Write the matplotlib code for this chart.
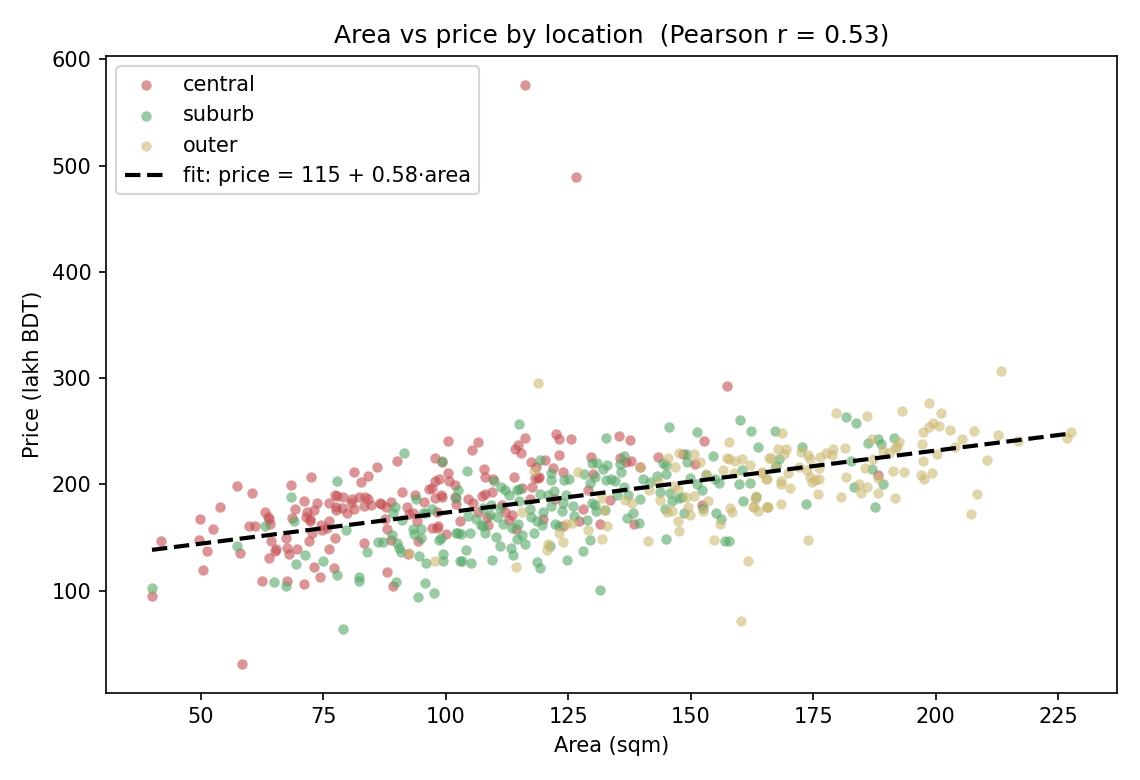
import numpy as np
import matplotlib
matplotlib.use("Agg")
import matplotlib.pyplot as plt

# (area in sqm, price in lakh BDT) for each location
central = [
 (40,95.6),(41.8,147.3),(49.8,167.4),(52.4,158.3),(49.7,147.6),(51.3,137.9),(50.5,120),(53.9,178.4),
 (57.3,198.7),(60.4,191.8),(57.9,136),(59.8,160.5),(61.1,160.5),(63,174.3),(63.7,169.3),(63.9,167.4),
 (64.1,162.7),(64.4,147),(65.3,139.2),(65.2,137.3),(63.9,131),(62.5,108.8),(67.5,108.8),(67.4,150.1),
 (67.5,140.1),(67.9,135.1),(69.7,139.8),(68.3,199.7),(68.5,168.3),(69.2,177.1),(71,184.6),(71.7,174.6),
 (73.1,176.2),(73.6,182.7),(71.5,169.3),(72.4,207.2),(72.2,167.4),(72.3,165.2),(72.6,154.2),(72,147),
 (74.6,162),(74.7,157.3),(76.2,165.2),(75.7,158.9),(77.4,150.1),(76.2,139.8),(73,122.5),(74.3,113.1),
 (71.1,106.6),(77.2,121.3),(76.1,183),(77.4,190.3),(77.7,189.3),(78.9,188.1),(77.5,178.7),(77.6,176.2),
 (78.7,177.7),(79.9,173),(80.6,182.4),(80.9,186.2),(81.3,177.1),(81.3,211.6),(82.6,202.2),(84.1,208.1),
 (85.9,216.3),(82.2,187.8),(83.2,179.9),(83.5,187.8),(84.2,186.5),(84.7,180.9),(86.6,182.4),(86.8,181.5),
 (87.8,178.4),(88.8,183.1),(87.6,167.4),(88,158),(83.2,145.4),(88.9,148),(88,117.5),(89.3,104.7),
 (92.3,134.8),(90,221.9),(91,193.4),(92,179.3),(93.2,173),(92.5,172.4),(93.7,190.3),(95.6,184),
 (94.1,166.1),(96.5,195.6),(97.1,196.9),(97.7,203.4),(98.5,205.3),(97.8,224.7),(99.2,220.7),(100.5,240.7),
 (100.5,210.6),(100.7,203.4),(101.8,199.7),(97.8,187.1),(99,190.3),(99.2,187.8),(101.8,188.7),(102,181.5),
 (98.2,174.6),(97.1,158.9),(98.1,158.9),(98.4,160.5),(100.1,153.6),(94.4,147),(102.8,166.1),
 (106.5,240.4),(105.3,232.3),(104.6,186.8),(105.6,183),(106.6,174.6),(107.7,214.7),(107.9,206.6),(109.6,205.3),
 (107.4,189),(107.9,190.9),(109.5,192.5),(108.5,169.3),(108.6,161.7),(111.4,180.9),(112.1,174.6),(112.8,166.7),
 (113.6,171.5),(113.9,206.6),(114.1,233.2),(114.7,237.3),(115.3,229.4),(116.1,244.2),(115.5,196.5),(117.5,198.1),
 (117.2,186.2),(114.4,158),(117.3,221.3),(118.4,216.9),(118.2,205.9),(118.9,205.9),(119.1,207.5),(120.3,223.2),
 (121.9,215.3),(122.4,247.9),(123,242.9),(125.6,242.6),(123,227.9),(123.9,211.9),(122.3,186.2),(119.9,167.7),
 (124,160.5),(127.1,165.8),(127.9,176.5),(131.4,163.3),(129.6,226.3),(130.1,210),(129.1,195),(133.5,185.6),
 (135.4,245.4),(137.6,241.4),(135.5,224.7),(136.8,220.7),(137.9,222.2),(139.6,216.9),(138.5,162.7),(143.4,226),
 (150.9,219.4),(148.4,228.8),(152.7,240.7),(152.3,180.9),(188.3,209),
 (116.2,575.8),(126.6,489.3),(157.4,292.8),(58.4,31.4),
]

suburb = [
 (40,102.5),(57.3,142),(63,161),(68.4,188.7),(68.9,166.1),(71.2,134.1),(69.4,125),(67.4,104.7),
 (64.9,108.1),(74.9,128.5),(77.7,203.4),(79.6,157),(77.7,115.3),(78.9,64.2),(82.3,112.8),(82.3,109.4),
 (83.9,136.3),(86.1,145.7),(87.1,146.1),(89.1,152.3),(90.1,144.8),(90.5,140.1),(90.8,136.7),(89.9,108.1),
 (91.5,229.4),(89.7,178.7),(89.3,173),(91,166.7),(93.2,158.6),(93.5,153.6),(95,158.3),(94.9,150.1),
 (94.6,132.9),(96,126),(95.8,107.5),(94.4,94.3),(97.6,98.4),(94,186.2),(95.4,173.6),(96,173),
 (97.1,176.8),(99.3,222.2),(98.5,148),(99.1,149.5),(99.5,134.8),(99.4,128.5),(102,154.2),(102.5,154.8),
 (102.8,127.9),(102.5,195),(102.1,187.1),
 (115,256.7),(132.6,244.2),(145.5,254.2),(151.3,249.2),(160.1,261.1),(162.3,250.1),(163.8,235.7),(104.3,212.8),
 (104.6,170.5),(106.1,167.7),(107.1,162),(107.6,160.5),(107.9,154.2),(103,153.3),(104.9,154.2),(104.2,138.5),
 (103.2,127.9),(105.2,126.3),(109.4,128.8),(110.2,150.4),(111.1,142),(113.4,140.1),(113.8,133.5),(114.6,149.2),
 (115.6,152.3),(116.1,144.2),(118,154.2),(118.7,127.3),(119.2,121.9),(124.8,129.1),(128.1,137.9),(129.4,147.6),
 (121.3,142),(114.8,163),(113.5,158.9),(111.6,163.3),(110.4,169.9),(109,171.5),(107.6,177.7),(109.3,180.9),
 (111,177.7),(109.8,203.4),(111.2,198.1),(112.1,195),(112.8,190.3),(114.5,195),(115,195.6),(115,184.9),
 (117.1,177.1),(117.3,169.3),(118.6,165.2),(119.6,161.7),(119.8,174.6),(119.2,191.2),(120.9,190.3),(122,194.3),
 (119.2,223.2),(121.5,210.6),(121.4,204.4),(124.1,204.1),(125.2,205.3),(121.4,179.9),(123.7,175.5),(124,183),
 (124.6,190.3),(126,180.2),(122.3,163),(123.2,160.5),(126.2,170.5),(128.8,166.7),(128.2,210),(129.9,220.1),
 (130.8,220.1),(133,218.5),(132,214.4),(130.4,206.9),(129.4,201.2),(132.6,204.4),(133.8,205),(134.5,203.4),
 (135.8,211.9),(135.5,219.1),(136.4,227.2),(136.4,197.5),(134.9,190.3),(137.2,190.3),(139.6,186.5),(129.9,183),
 (130.4,180.9),(130.6,175.5),(132.4,176.2),(137,168.6),(138.3,173),(139.4,163.9),(131.5,100.6),(144.9,148.9),
 (140.2,205.6),(141.7,202.2),(143.2,208.1),(144.3,220.1),(144.9,218.5),(144.9,210),(143.8,192.8),(145.7,191.8),
 (146.2,184.6),(147.5,187.1),(148.2,187.8),(144.7,177.4),(148.7,173.3),(149.9,205.9),(151.2,200.3),(149.1,229.1),
 (149.3,221.3),(152.3,195),(152.5,177.7),(154.6,226.9),(153.2,209.1),(155,205.6),(155.7,201.5),(155.1,173.3),
 (156.1,167.4),(156.9,146.7),(157.8,146.7),(159.9,200.6),(160.4,213.8),(160.6,184.6),(162,201.5),(163.3,188.7),
 (181.6,263.9),(183.7,258.3),(191.4,243.5),(188.3,242.6),(188.9,237.9),(186.2,239.1),(182.8,222.5),(187,214.4),
 (189.3,200.3),(183.4,197.5),(187.6,179.3),(173.5,181.5),(172.7,234.8),(167.1,250.4),(168,224.1),(167.5,217.5),
]

outer = [
 (92.5,136),(97.8,127.6),(117.9,213.1),(126.9,211.9),(139.6,216.9),(145.4,225.1),(147.5,229.8),(150.7,229.1),
 (151.9,221.6),(146.8,216),(157.9,240.4),(157.4,224.7),(157.9,223.8),(159.1,222.5),(160.4,224.1),(162,218.8),
 (156.5,214.1),(158.9,210.6),(153.1,210),(164.6,211.3),(165.9,224.7),(165.4,205),(115.5,174.6),(120.9,144.2),
 (120.7,138.5),(123.9,145.7),(123,154.2),(124.5,162.7),(125.7,163.6),(129.1,157.3),(131.9,148.6),(133,161.4),
 (114.4,122.5),(131.8,187.1),(132.3,176.2),(136.6,185.6),(138.1,182.4),(141.4,195),(143.4,202.8),(143.7,185.6),
 (141.2,147),(145.1,174.3),(146.2,175.2),(146.5,198.7),(147.3,195.6),(147.4,166.1),(147.7,155.8),(149.4,179.3),
 (149.8,171.5),(149,188.7),(150.7,189.6),(153.6,184.3),(152.5,175.2),(154.8,148),(156,163),(158,177.7),
 (158.4,174.6),(161.6,127.6),(160.3,71.5),(163.1,186.5),(163.3,189.3),(162.9,178.7),(163.8,175.2),(165.5,178.7),
 (118.8,295.6),(213.4,306.5),(227.7,249.8),(226.9,244.2),(216.9,240.7),(212.7,246.7),(210.4,222.8),(208.5,191.5),
 (207.3,172.4),(207.9,250.7),(205.4,242.9),(204,235.1),(202.9,251),(201.1,267),(198.7,276.8),(200.6,255.4),
 (199.4,258.3),(198.7,253.9),(197.5,249.2),(197.2,238.2),(200.2,228.8),(197.4,222.5),(199.3,210.6),(197,209),
 (197.6,205),(193.2,269.2),(186,264.8),(179.7,267),(192.5,240.4),(192.1,235.1),(191.7,234.1),(190.4,230),
 (189.2,231.9),(187,242.9),(187.2,224.1),(191.3,212.8),(193.5,212.2),(191.7,187.1),(188.3,192.4),(188.3,205.9),
 (185.6,215.3),(186,197.5),(184.8,191.8),(184.3,200.6),(180.6,188.7),(181.7,207.5),(181.4,234.4),(179,233.2),
 (178.8,227.9),(177.7,230),(176.4,225.4),(174.3,224.1),(173.9,227.5),(172.6,231),(172.1,216.9),(173.7,213.7),
 (176.1,215.3),(174.4,207.5),(176.1,205.3),(175.4,204.4),(174.8,202.2),(176,191.5),(173.9,147.9),(170.2,196.5),
 (168.5,203.7),(168.5,200.3),(169.8,211.2),(165.5,205.6),(164.6,211.2),(166.3,225),(167.9,233.2),(169.4,233.2),
 (169.1,228.5),(168.6,248.9),(167.2,216.3),(168.5,182.1),(165.5,179),(165.7,179),(162.8,179.3),
]

location_names = ["central", "suburb", "outer"]
location_colors = ["#C44E52", "#55A868", "#CCB974"]
fit_intercept = 115.2
fit_slope = 0.5835
pearson_r = 0.53

fig, ax = plt.subplots(figsize=(7.6, 5.2), dpi=150)

for name, color, points in zip(location_names, location_colors, [central, suburb, outer]):
    area, price = zip(*points)
    ax.scatter(area, price, s=25, color=color, alpha=0.6, linewidths=0, label=name)

all_area = [p[0] for group in (central, suburb, outer) for p in group]
line_x = np.array([min(all_area), max(all_area)])
ax.plot(line_x, fit_intercept + fit_slope * line_x, color="black", lw=2, ls="--",
        label=f"fit: price = {fit_intercept:.0f} + {fit_slope:.2f}·area")

ax.set_xlabel("Area (sqm)")
ax.set_ylabel("Price (lakh BDT)")
ax.set_title(f"Area vs price by location  (Pearson r = {pearson_r})")
ax.legend(loc="upper left")
fig.subplots_adjust(left=106/1140, right=1117.3/1140, top=1-56/780, bottom=1-692.7/780)
fig.savefig("out.png", dpi=150)
